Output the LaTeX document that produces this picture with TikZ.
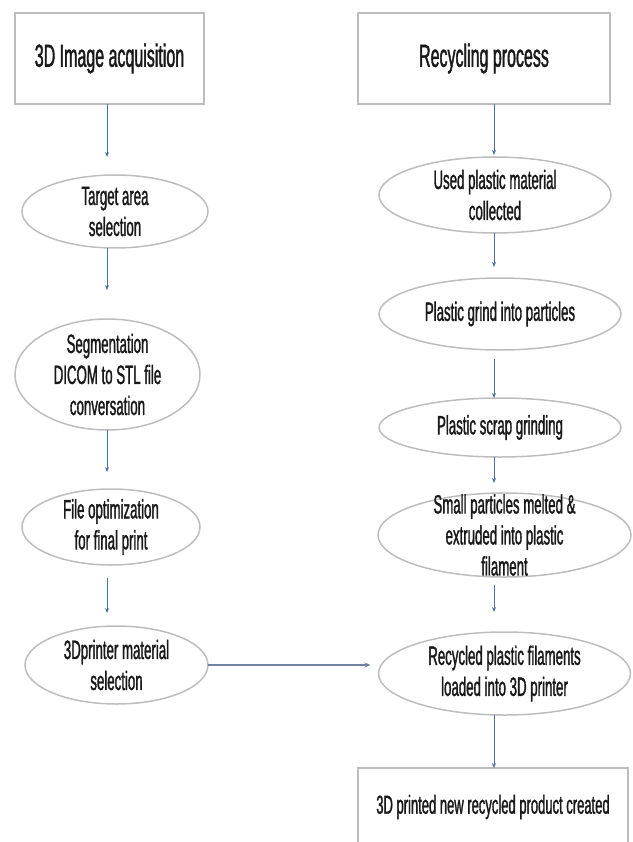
\documentclass[tikz,border=0pt]{standalone}
\usepackage{fontspec}
\setmainfont{Liberation Sans}[FakeStretch=0.5, FakeBold=1.2]
\usetikzlibrary{shapes.geometric, arrows.meta, positioning}

\definecolor{shapegray}{HTML}{BDBDBD}
\definecolor{arrowblue}{HTML}{4F6FA8}
\definecolor{linkgray}{HTML}{6F82A0}

\begin{document}
\begin{tikzpicture}[
        x=1pt, y=1pt,
        headbox/.style={rectangle, draw=shapegray, line width=2pt, inner sep=0pt, outer sep=0pt, align=center, font=\fontsize{32}{36}\selectfont, text=black!90},
        oval/.style={ellipse, draw=shapegray, line width=1.5pt, inner sep=-60pt, outer sep=0pt, align=center, font=\fontsize{26.5}{31}\selectfont, text=black!90},
        arrow/.style={draw=arrowblue, line width=0.8pt, -{Stealth[length=5pt, width=4pt]}},
        link/.style={draw=linkgray, line width=2.5pt, -{Stealth[length=6pt, width=5pt]}}
        ]
        \useasboundingbox (0,0) rectangle (632,-842);
        \clip (0,0) rectangle (632,-842);

        \coordinate (colL) at (107,0);
        \coordinate (colR) at (494,0);

        % left column
        \node (boxL) [headbox, minimum width=189pt, minimum height=91pt] at (109.5,-58.5) {3D Image acquisition};
        \node (selL) [oval, minimum width=186pt, minimum height=73pt, below=71pt of boxL, xshift=5.5pt] {Target area\\selection};
        \node (segL) [oval, minimum width=185pt, minimum height=111pt, below=71pt of selL, xshift=-7.5pt] {Segmentation\\DICOM to STL file\\conversation};
        \node (optL) [oval, minimum width=178pt, minimum height=76pt, below=59pt of segL, xshift=3.5pt] {File optimization\\for final print};
        \node (matL) [oval, minimum width=183pt, minimum height=78pt, below=61pt of optL, xshift=5.5pt] {3Dprinter material\\selection};

        % right column
        \node (boxR) [headbox, minimum width=252pt, minimum height=91pt, right=154pt of boxL] {Recycling process};
        \node (usedR) [oval, minimum width=232pt, minimum height=76pt, below=53pt of boxR, xshift=11pt] {Used plastic material\\collected};
        \node (grindR) [oval, minimum width=242pt, minimum height=72pt, below=45pt of usedR, xshift=5pt] {Plastic grind into particles};
        \node (scrapR) [oval, minimum width=242pt, minimum height=59pt, below=48pt of grindR] {Plastic scrap grinding};
        \node (meltR) [oval, minimum width=253pt, minimum height=84pt, below=36pt of scrapR, xshift=4.5pt] {Small particles melted \&\\extruded into plastic\\filament};
        \node (loadR) [oval, minimum width=252pt, minimum height=83pt, below=55pt of meltR] {Recycled plastic filaments\\loaded into 3D printer};
        \node (finalR) [headbox, minimum width=270pt, minimum height=78pt, below=53pt of loadR, xshift=-11.5pt, font=\fontsize{26}{31}\selectfont] {3D printed new recycled product created};

        \draw [arrow, shorten >=18pt] (boxL.south -| colL) -- (selL.north -| colL);
        \draw [arrow, shorten >=29pt] (selL.south -| colL) -- (segL.north -| colL);
        \draw [arrow, shorten >=17pt] (segL.south -| colL) -- (optL.north -| colL);
        \draw [arrow, shorten <=13pt, shorten >=13pt] (optL.south -| colL) -- (matL.north -| colL);

        \draw [arrow, shorten >=2pt] (boxR.south -| colR) -- (usedR.north -| colR);
        \draw [arrow, shorten >=11pt] (usedR.south -| colR) -- (grindR.north -| colR);
        \draw [arrow, shorten <=9pt] (grindR.south -| colR) -- (scrapR.north -| colR);
        \draw [arrow, shorten >=10pt] (scrapR.south -| colR) -- (meltR.north -| colR);
        \draw [arrow, shorten <=8pt, shorten >=20pt] (meltR.south -| colR) -- (loadR.north -| colR);
        \draw [arrow] (loadR.south -| colR) -- (finalR.north -| colR);

        \draw [link, shorten >=8pt] (matL.east) -- (matL.east -| loadR.west);

    \end{tikzpicture}
\end{document}
